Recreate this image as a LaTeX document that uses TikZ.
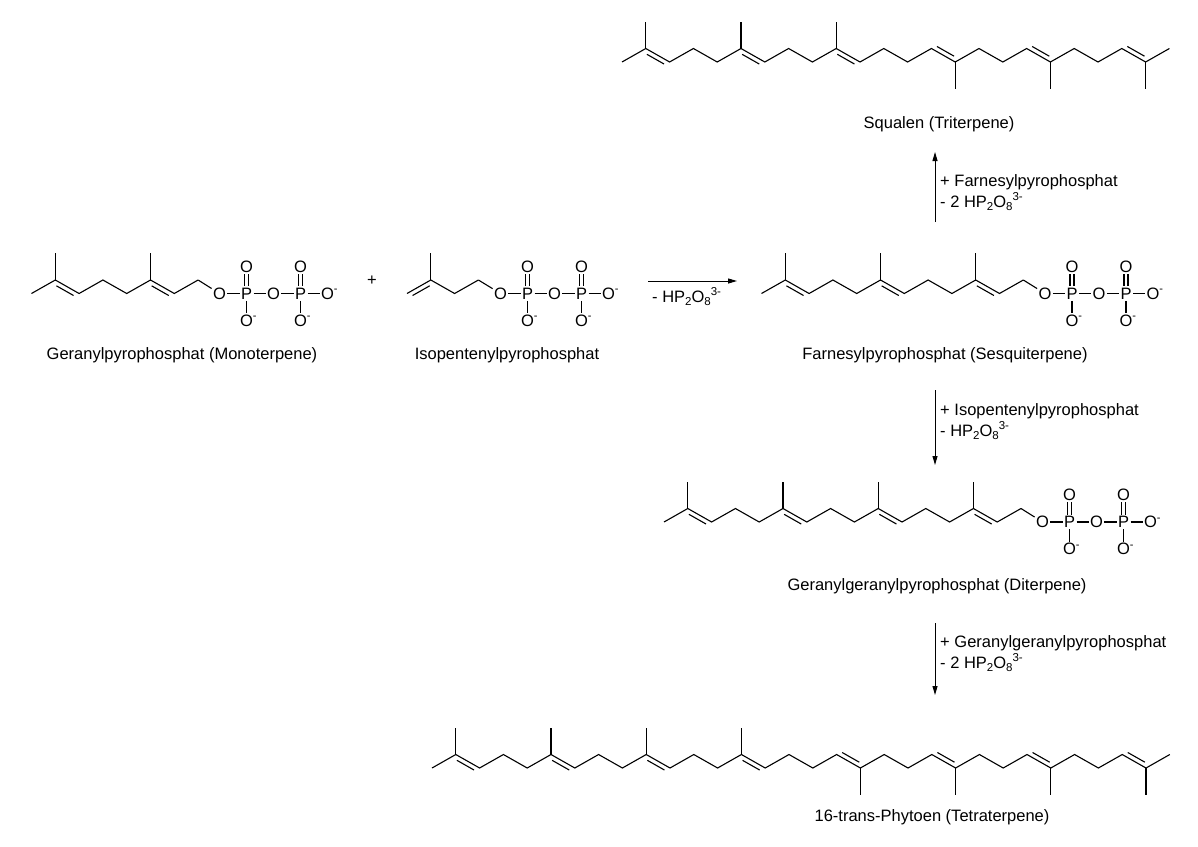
\documentclass[tikz,border=0pt]{standalone}
\usepackage{fontspec}
\setmainfont{Liberation Sans}
\usetikzlibrary{calc,arrows.meta}

\newcommand\sbx[1]{\raisebox{-3.5pt}{\fontsize{11.5}{12}\selectfont #1}}
\newcommand\spx[1]{\raisebox{7pt}{\fontsize{11.5}{12}\selectfont #1}}
\newcommand\mns{\rlap{\raisebox{6.5pt}{\fontsize{11}{12}\selectfont -}}}

\tikzset{
  bond/.style={line width=1.1pt, black},
  atom/.style={font=\fontsize{16.5}{19}\selectfont, inner sep=1.3pt, text height=11.9pt, text depth=0pt},
  lbl/.style={font=\fontsize{16.5}{19}\selectfont, inner sep=0pt},
  arr/.style={line width=1pt, -{Triangle[length=9pt,width=5pt]}}
}

% chain of zigzag vertices: prefix, x0, y(down), last index
\newcommand\chainz[4]{%
  \foreach \i in {0,...,#4}{%
    \pgfmathsetmacro\yy{#3-13.5*mod(\i,2)}%
    \coordinate (#1\i) at ({#2+23.8*\i},\yy);
  }%
  \draw[bond] (#10) \foreach \i in {1,...,#4}{ -- (#1\i)};
}
\newcommand\meup[2]{\draw[bond] (#1#2) -- ++(0,-27) coordinate (#1m#2);}
\newcommand\medn[2]{\draw[bond] (#1#2) -- ++(0,27) coordinate (#1m#2);}
\newcommand\dbl[4]{\draw[bond] ($(#1#2)!0.14!(#1#3)!4.5pt!#4:(#1#3)$) -- ($(#1#2)!0.86!(#1#3)!4.5pt!#4:(#1#3)$);}
% pyrophosphate: prefix, x of first O, y
\newcommand\phos[3]{%
  \node[atom] (#1O1) at (#2,#3) {O};
  \node[atom] (#1P1) at ({#2+27},#3) {P};
  \node[atom] (#1O2) at ({#2+54},#3) {O};
  \node[atom] (#1P2) at ({#2+81},#3) {P};
  \node[atom] (#1O3) at ({#2+108},#3) {O\mns};
  \node[atom] (#1T1) at ({#2+27},{#3-27}) {O};
  \node[atom] (#1T2) at ({#2+81},{#3-27}) {O};
  \node[atom] (#1B1) at ({#2+27},{#3+27}) {O\mns};
  \node[atom] (#1B2) at ({#2+81},{#3+27}) {O\mns};
  \draw[bond] (#1O1) -- (#1P1) -- (#1O2) -- (#1P2) -- (#1O3);
  \draw[bond] (#1P1) -- (#1B1) (#1P2) -- (#1B2);
  \draw[bond] ([xshift=-2pt]#1P1.north) -- ([xshift=-2pt]#1T1.south)
              ([xshift=2pt]#1P1.north) -- ([xshift=2pt]#1T1.south)
              ([xshift=-2pt]#1P2.north) -- ([xshift=-2pt]#1T2.south)
              ([xshift=2pt]#1P2.north) -- ([xshift=2pt]#1T2.south);
}

\begin{document}
\begin{tikzpicture}[x=1pt,y=-1pt]
\useasboundingbox (0,0) rectangle (1198,846);

% ---- Squalen
\chainz{sq}{622}{62}{23}
\meup{sq}{1}\meup{sq}{5}\meup{sq}{9}
\medn{sq}{14}\medn{sq}{18}\medn{sq}{22}
\dbl{sq}{1}{2}{-90}\dbl{sq}{5}{6}{-90}\dbl{sq}{9}{10}{-90}
\dbl{sq}{13}{14}{90}\dbl{sq}{17}{18}{90}\dbl{sq}{21}{22}{90}
\node[lbl, anchor=base] (sqname) at (939,128) {Squalen (Triterpene)};

% ---- Geranylpyrophosphat
\chainz{gp}{31.5}{293.5}{7}
\meup{gp}{1}\meup{gp}{5}
\dbl{gp}{1}{2}{-90}\dbl{gp}{5}{6}{-90}
\phos{gp}{219.5}{293.5}
\draw[bond] (gp7) -- (gpO1);
\node[lbl, anchor=base] (gpname) at (182,359) {Geranylpyrophosphat (Monoterpene)};

\node[lbl] (plus) at (372,281) {+};

% ---- Isopentenylpyrophosphat
\chainz{ip}{407}{293.5}{3}
\meup{ip}{1}
\dbl{ip}{0}{1}{-90}
\phos{ip}{500.5}{293.5}
\draw[bond] (ip3) -- (ipO1);
\node[lbl, anchor=base] (ipname) at (507,359) {Isopentenylpyrophosphat};

% ---- Farnesylpyrophosphat
\chainz{fp}{761.5}{293.5}{11}
\meup{fp}{1}\meup{fp}{5}\meup{fp}{9}
\dbl{fp}{1}{2}{-90}\dbl{fp}{5}{6}{-90}\dbl{fp}{9}{10}{-90}
\phos{fp}{1045}{293.5}
\draw[bond] (fp11) -- (fpO1);
\node[lbl, anchor=base] (fpname) at (945,359) {Farnesylpyrophosphat (Sesquiterpene)};

% ---- Geranylgeranylpyrophosphat
\chainz{gg}{664}{522}{15}
\meup{gg}{1}\meup{gg}{5}\meup{gg}{9}\meup{gg}{13}
\dbl{gg}{1}{2}{-90}\dbl{gg}{5}{6}{-90}\dbl{gg}{9}{10}{-90}\dbl{gg}{13}{14}{-90}
\phos{gg}{1042.5}{522}
\draw[bond] (gg15) -- (ggO1);
\node[lbl, anchor=base] (ggname) at (937,590) {Geranylgeranylpyrophosphat (Diterpene)};

% ---- Phytoen
\chainz{ph}{432}{768}{31}
\meup{ph}{1}\meup{ph}{5}\meup{ph}{9}\meup{ph}{13}
\medn{ph}{18}\medn{ph}{22}\medn{ph}{26}\medn{ph}{30}
\dbl{ph}{1}{2}{-90}\dbl{ph}{5}{6}{-90}\dbl{ph}{9}{10}{-90}\dbl{ph}{13}{14}{-90}
\dbl{ph}{17}{18}{90}\dbl{ph}{21}{22}{90}\dbl{ph}{25}{26}{90}\dbl{ph}{29}{30}{90}
\node[lbl, anchor=base] (phname) at (932,821) {16-trans-Phytoen (Tetraterpene)};

% ---- reaction arrows
\coordinate (h1s) at (648,281); \coordinate (h1e) at (737,281);
\draw[arr] (h1s) -- (h1e);
\node[lbl, anchor=base west] (h1l) at (652,302) {- HP\sbx{2}O\sbx{8}\spx{3-}};

\coordinate (v1s) at (935,222); \coordinate (v1e) at (935,152);
\draw[arr] (v1s) -- (v1e);
\node[lbl, anchor=base west] (v1a) at (940,186) {+ Farnesylpyrophosphat};
\node[lbl, anchor=base west] (v1b) at (940,207) {- 2 HP\sbx{2}O\sbx{8}\spx{3-}};

\coordinate (v2s) at (935,390); \coordinate (v2e) at (935,465);
\draw[arr] (v2s) -- (v2e);
\node[lbl, anchor=base west] (v2a) at (940,415) {+ Isopentenylpyrophosphat};
\node[lbl, anchor=base west] (v2b) at (940,436) {- HP\sbx{2}O\sbx{8}\spx{3-}};

\coordinate (v3s) at (935,623); \coordinate (v3e) at (935,695);
\draw[arr] (v3s) -- (v3e);
\node[lbl, anchor=base west] (v3a) at (940,647) {+ Geranylgeranylpyrophosphat};
\node[lbl, anchor=base west] (v3b) at (940,668) {- 2 HP\sbx{2}O\sbx{8}\spx{3-}};
\end{tikzpicture}
\end{document}
